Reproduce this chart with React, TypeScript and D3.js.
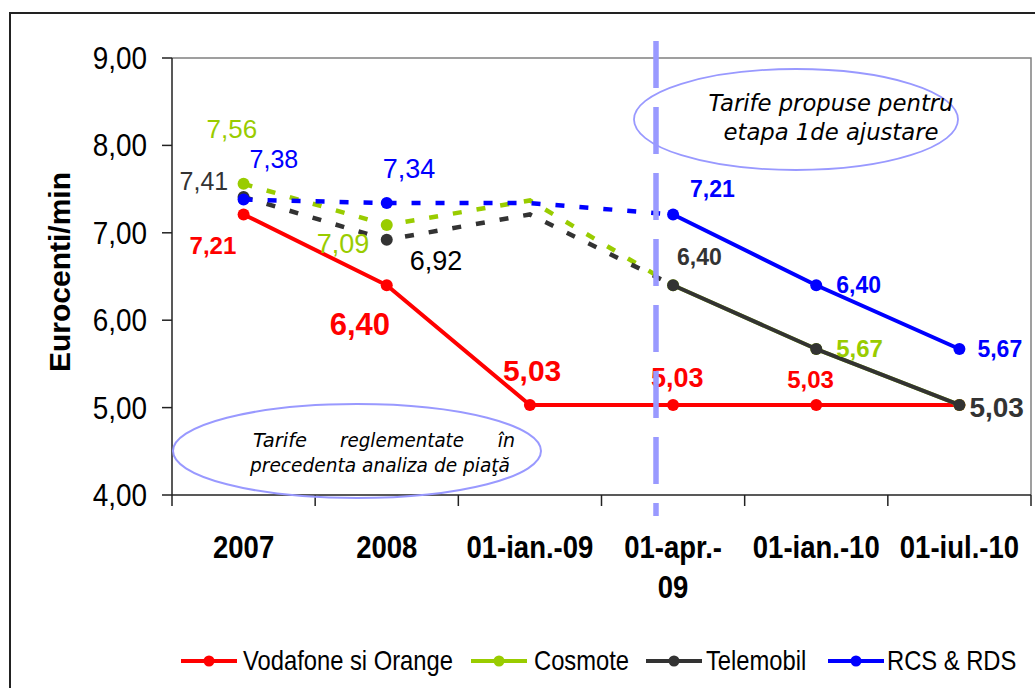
import React from 'react';
import * as d3 from 'd3';

const width = 1035;
const height = 688;
const margin = {top: 58, right: 4, bottom: 193, left: 172};

const categories = ['2007', '2008', '01-ian.-09', '01-apr.-09', '01-ian.-10', '01-iul.-10'];
const categoryLines = [['2007'], ['2008'], ['01-ian.-09'], ['01-apr.-', '09'], ['01-ian.-10'], ['01-iul.-10']];
const vodafoneOrange = [7.21, 6.40, 5.03, 5.03, 5.03, 5.03];
const cosmote = [7.56, 7.09, 7.37, 6.40, 5.67, 5.03];
const telemobil = [7.41, 6.92, 7.21, 6.40, 5.67, 5.03];
const rcsRds = [7.38, 7.34, 7.34, 7.21, 6.40, 5.67];
const yTicks = [4, 5, 6, 7, 8, 9];
const seriesNames = ['Vodafone si Orange', 'Cosmote', 'Telemobil', 'RCS & RDS'];

const red = '#ff0000';
const green = '#99cc00';
const dark = '#333333';
const blue = '#0000ff';
const lilac = '#9999ff';
const font = '"Liberation Sans", Arial, sans-serif';
const noteFont = '"DejaVu Sans", Verdana, sans-serif';

// which points get a data label, and where it sits relative to the marker
const series = [
  {name: seriesNames[0], values: vodafoneOrange, color: red, dashedTo: 0, hidden: [] as number[],
    labels: [
      {i: 0, dx: -54, dy: 40, size: 24, bold: true},
      {i: 1, dx: -57, dy: 50, size: 31, bold: true},
      {i: 2, dx: -27, dy: -24, size: 30, bold: true},
      {i: 3, dx: -22, dy: -18, size: 27, bold: true},
      {i: 4, dx: -29, dy: -17, size: 24, bold: true},
    ]},
  {name: seriesNames[1], values: cosmote, color: green, dashedTo: 3, hidden: [2],
    labels: [
      {i: 0, dx: -37, dy: -46, size: 26, bold: false},
      {i: 1, dx: -70, dy: 28, size: 27, bold: false},
      {i: 4, dx: 20, dy: 8, size: 24, bold: true},
    ]},
  {name: seriesNames[2], values: telemobil, color: dark, dashedTo: 3, hidden: [2],
    labels: [
      {i: 0, dx: -64, dy: -7, size: 25, bold: false},
      {i: 1, dx: 23, dy: 30, size: 27, bold: false, color: '#000'},
      {i: 3, dx: 4, dy: -20, size: 23, bold: true},
      {i: 5, dx: 10, dy: 12, size: 28, bold: true},
    ]},
  {name: seriesNames[3], values: rcsRds, color: blue, dashedTo: 3, hidden: [2],
    labels: [
      {i: 0, dx: 6, dy: -32, size: 25, bold: false},
      {i: 1, dx: -4, dy: -25, size: 27, bold: false},
      {i: 3, dx: 17, dy: -17, size: 23, bold: true},
      {i: 4, dx: 20, dy: 8, size: 23, bold: true},
      {i: 5, dx: 18, dy: 8, size: 23, bold: true},
    ]},
];

const legendItems = [
  {x: 181, textX: 243},
  {x: 471, textX: 534},
  {x: 646, textX: 706},
  {x: 828, textX: 887},
];

const fmt = (v: number) => d3.format('.2f')(v).replace('.', ',');

export default function App() {
  const xScale = d3.scaleBand<string>()
    .domain(categories)
    .range([margin.left, width - margin.right])
    .padding(0);
  const yScale = d3.scaleLinear().domain([4, 9]).range([height - margin.bottom, margin.top]);
  const cx = (i: number) => (xScale(categories[i]) as number) + xScale.bandwidth() / 2;

  const line = d3.line<number>().x(i => cx(i)).y(i => yScale(series[0].values[i]));

  const x0 = margin.left;
  const x1 = width - margin.right;
  const y0 = height - margin.bottom;
  const y1 = margin.top;

  return (
    <svg width={width} height={height} style={{position: 'absolute', left: 0, top: 0, background: '#fff'}}>
      {/* outer frame */}
      <rect x={10} y={13} width={1040} height={700} fill="none" stroke="#222" strokeWidth={2}/>

      {/* plot area border */}
      <path d={`M${x0},${y1}H${x1}V${y0}`} fill="none" stroke="#808080" strokeWidth={1.5}/>

      {/* y axis */}
      <line x1={x0} x2={x0} y1={y1} y2={y0} stroke="#222" strokeWidth={1.5}/>
      {yTicks.map(t => (
        <g key={t}>
          <line x1={x0 - 10} x2={x0} y1={yScale(t)} y2={yScale(t)} stroke="#222" strokeWidth={1.5}/>
          <text transform={`translate(147,${yScale(t) + 11}) scale(0.9,1)`} textAnchor="end"
            fontFamily={font} fontSize={31} fill="#000">{fmt(t)}</text>
        </g>
      ))}
      <text transform={`translate(70,272) rotate(-90)`} textAnchor="middle" fontFamily={font}
        fontSize={30} fontWeight="bold" fill="#000">Eurocenti/min</text>

      {/* x axis */}
      <line x1={x0} x2={x1} y1={y0} y2={y0} stroke="#222" strokeWidth={1.5}/>
      {[...categories.map(c => xScale(c) as number), x1].map((bx, k) => (
        <line key={k} x1={bx} x2={bx} y1={y0} y2={y0 + 11} stroke="#222" strokeWidth={1.5}/>
      ))}
      {categoryLines.map((lines, i) => lines.map((l, j) => (
        <text key={i + '-' + j} transform={`translate(${cx(i)},${558 + j * 40}) scale(0.86,1)`}
          textAnchor="middle" fontFamily={font} fontSize={32} fontWeight="bold" fill="#000">{l}</text>
      )))}

      {/* series */}
      {series.map(s => {
        line.y(i => yScale(s.values[i]));
        const idx = s.values.map((_, i) => i);
        const dashed = idx.filter(i => i <= s.dashedTo);
        const solid = idx.filter(i => i >= s.dashedTo);
        return (
          <g key={s.name}>
            {dashed.length > 1 && (
              <path d={line(dashed) as string} fill="none" stroke={s.color} strokeWidth={4.5}
                strokeDasharray="9,15"/>
            )}
            <path d={line(solid) as string} fill="none" stroke={s.color} strokeWidth={4}
              strokeLinejoin="round"/>
            {idx.filter(i => !s.hidden.includes(i)).map(i => (
              <circle key={i} cx={cx(i)} cy={yScale(s.values[i])} r={6} fill={s.color}/>
            ))}
          </g>
        );
      })}

      {/* data labels */}
      {series.map(s => s.labels.map(l => (
        <text key={s.name + l.i} x={cx(l.i) + l.dx} y={yScale(s.values[l.i]) + l.dy}
          fontFamily={font} fontSize={l.size} fontWeight={l.bold ? 'bold' : 'normal'}
          fill={(l as any).color || s.color}>{fmt(s.values[l.i])}</text>
      )))}

      {/* stage divider */}
      <line x1={656} x2={656} y1={41} y2={516} stroke={lilac} strokeWidth={5.5} strokeDasharray="47,19"/>

      {/* annotations */}
      <ellipse cx={796} cy={119.5} rx={162} ry={50.5} fill="none" stroke={lilac} strokeWidth={1.8}/>
      <text x={831} y={111} textAnchor="middle" fontFamily={noteFont}
        fontStyle="italic" fontSize={23} fill="#000" textLength={245} lengthAdjust="spacingAndGlyphs">Tarife propuse pentru</text>
      <text x={831} y={140} textAnchor="middle" fontFamily={noteFont}
        fontStyle="italic" fontSize={23} fill="#000" textLength={215} lengthAdjust="spacingAndGlyphs">etapa 1de ajustare</text>

      <ellipse cx={357} cy={451} rx={184} ry={47} fill="none" stroke={lilac} strokeWidth={2}/>
      <g fontFamily={noteFont} fontStyle="italic" fontSize={19} fill="#000">
        <text x={253} y={447} textLength={54} lengthAdjust="spacingAndGlyphs">Tarife</text>
        <text x={340} y={447} textLength={124} lengthAdjust="spacingAndGlyphs">reglementate</text>
        <text x={515} y={447} textAnchor="end">în</text>
        <text x={250} y={472} textLength={260} lengthAdjust="spacingAndGlyphs">precedenta analiza de piaţă</text>
      </g>

      {/* legend */}
      {series.map((s, k) => (
        <g key={s.name}>
          <line x1={legendItems[k].x} x2={legendItems[k].x + 56} y1={661} y2={661} stroke={s.color} strokeWidth={4}/>
          <circle cx={legendItems[k].x + 28} cy={661} r={5.5} fill={s.color}/>
          <text transform={`translate(${legendItems[k].textX},670) scale(0.88,1)`} fontFamily={font}
            fontSize={27} fill="#000">{s.name}</text>
        </g>
      ))}
    </svg>
  );
}
